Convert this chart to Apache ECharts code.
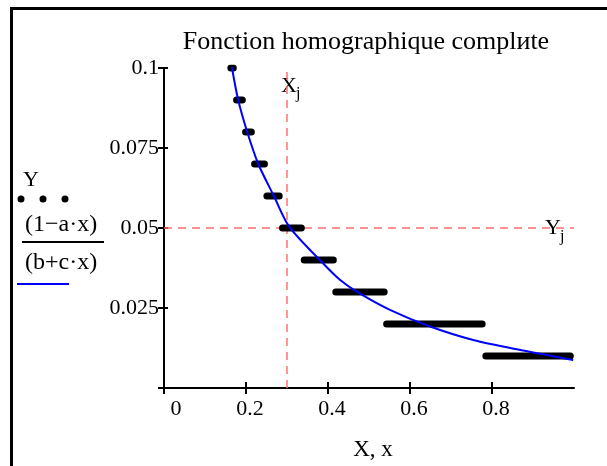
<!DOCTYPE html>
<html>
<head>
<meta charset="utf-8">
<script src="https://cdn.jsdelivr.net/npm/echarts@6/dist/echarts.min.js"></script>
<style>
html,body{margin:0;padding:0;background:#fff;}
#chart{width:607px;height:466px;}
</style>
</head>
<body>
<div id="chart"></div>
<script>
//刻度
var xTicks = [0, 0.2, 0.4, 0.6, 0.8];
var yTicks = [0, 0.025, 0.05, 0.075, 0.1];
var yLabels = [0.025, 0.05, 0.075, 0.1];
//曲线 (1-a·x)/(b+c·x)，从图上读出的点
var curveX = [0.16, 0.166, 0.181, 0.203, 0.230, 0.268, 0.305, 0.380, 0.429, 0.470, 0.551, 0.649, 0.754, 0.876, 0.998];
var curveY = [0.106, 0.1, 0.09, 0.08, 0.07, 0.06, 0.0505, 0.040, 0.0338, 0.0301, 0.0244, 0.0192, 0.015, 0.0117, 0.00875];
//Y 点：每一级的起止 X
var stepY  = [0.1, 0.09, 0.08, 0.07, 0.06, 0.05, 0.04, 0.03, 0.02, 0.01];
var stepX0 = [0.163, 0.177, 0.199, 0.221, 0.251, 0.289, 0.342, 0.419, 0.543, 0.785];
var stepX1 = [0.169, 0.191, 0.213, 0.245, 0.281, 0.335, 0.413, 0.537, 0.776, 0.991];
//Xj, Yj
var Xj = 0.3;
var Yj = 0.05;

var FONT = '"Liberation Serif", "DejaVu Serif", serif';

var myChart = echarts.init(document.getElementById('chart'));

var curveData = [];
for (var i = 0; i < curveX.length; i++) {
    curveData.push([curveX[i], curveY[i]]);
}

var series = [];
//虚线
series.push({
    type: 'line', xAxisIndex: 0, yAxisIndex: 0, symbol: 'none', z: 1, silent: true,
    data: [[Xj, 0], [Xj, 0.1]],
    lineStyle: {color: '#ff7070', width: 1.5, type: [8, 6]}
});
series.push({
    type: 'line', xAxisIndex: 0, yAxisIndex: 0, symbol: 'none', z: 1, silent: true,
    data: [[0, Yj], [1, Yj]],
    lineStyle: {color: '#ff7070', width: 1.5, type: [8, 6]}
});
//黑色点段
for (var k = 0; k < stepY.length; k++) {
    series.push({
        type: 'line', xAxisIndex: 0, yAxisIndex: 0, symbol: 'none', z: 2, clip: true,
        data: [[stepX0[k], stepY[k]], [stepX1[k], stepY[k]]],
        lineStyle: {color: '#000', width: 7, cap: 'round'}
    });
}
//蓝色曲线
series.push({
    type: 'line', xAxisIndex: 0, yAxisIndex: 0, symbol: 'none', z: 3, clip: true,
    smooth: 0.3,
    data: curveData,
    lineStyle: {color: '#0000ff', width: 2}
});

var option = {
    animation: false,
    grid: {left: 164, right: 33, top: 68, bottom: 78, containLabel: false, outerBoundsMode: 'none'},
    xAxis: [{
        type: 'value', min: 0, max: 1,
        axisLine: {show: true, lineStyle: {color: '#000', width: 2}},
        axisTick: {show: true, inside: false, length: 6, lineStyle: {color: '#000', width: 2}, customValues: xTicks},
        axisLabel: {
            show: true, margin: 10, color: '#000', fontSize: 22, fontFamily: FONT,
            customValues: xTicks,
            formatter: function (v) { return v === 0 ? '{z|0}' : '{n|' + v + '}'; },
            rich: {
                z: {fontSize: 22, fontFamily: FONT, color: '#000', padding: [0, 0, 0, 24]},
                n: {fontSize: 22, fontFamily: FONT, color: '#000', padding: [0, 0, 0, 8]}
            }
        },
        splitLine: {show: false},
        name: 'X, x', nameLocation: 'middle', nameGap: 50,
        nameTextStyle: {color: '#000', fontSize: 23, fontFamily: FONT, padding: [0, 0, 0, 8]}
    }, {
        type: 'value', min: 0, max: 1, position: 'bottom',
        axisLine: {show: false},
        axisTick: {show: true, inside: true, length: 6, lineStyle: {color: '#000', width: 2}, customValues: xTicks},
        axisLabel: {show: false},
        splitLine: {show: false}
    }],
    yAxis: [{
        type: 'value', min: 0, max: 0.1,
        axisLine: {show: true, lineStyle: {color: '#000', width: 2}},
        axisTick: {show: true, inside: false, length: 6, lineStyle: {color: '#000', width: 2}, customValues: yTicks},
        axisLabel: {
            show: true, margin: 5, color: '#000', fontSize: 22, fontFamily: FONT,
            customValues: yLabels
        },
        splitLine: {show: false}
    }, {
        type: 'value', min: 0, max: 0.1, position: 'left',
        axisLine: {show: false},
        axisTick: {show: true, inside: true, length: 4, lineStyle: {color: '#000', width: 2}, customValues: yTicks},
        axisLabel: {show: false},
        splitLine: {show: false}
    }],
    graphic: [
        //边框
        {type: 'line', shape: {x1: 11.5, y1: 7, x2: 11.5, y2: 466}, style: {stroke: '#000', lineWidth: 3}},
        {type: 'line', shape: {x1: 10, y1: 8.5, x2: 607, y2: 8.5}, style: {stroke: '#000', lineWidth: 3}},
        //标题
        {type: 'text', x: 366, y: 42, style: {text: 'Fonction homographique complиte', font: '26px ' + FONT, fill: '#000', textAlign: 'center', textVerticalAlign: 'middle'}},
        //Xj Yj
        {type: 'text', x: 281, y: 86, style: {text: 'X', font: '22px ' + FONT, fill: '#000', textVerticalAlign: 'middle'}},
        {type: 'text', x: 296, y: 94, style: {text: 'j', font: '16px ' + FONT, fill: '#000', textVerticalAlign: 'middle'}},
        {type: 'text', x: 545, y: 228, style: {text: 'Y', font: '22px ' + FONT, fill: '#000', textVerticalAlign: 'middle'}},
        {type: 'text', x: 560, y: 237, style: {text: 'j', font: '16px ' + FONT, fill: '#000', textVerticalAlign: 'middle'}},
        //图例
        {type: 'text', x: 23, y: 180, style: {text: 'Y', font: '22px ' + FONT, fill: '#000', textVerticalAlign: 'middle'}},
        {type: 'circle', shape: {cx: 21, cy: 199, r: 3.5}, style: {fill: '#000'}},
        {type: 'circle', shape: {cx: 43, cy: 199, r: 3.5}, style: {fill: '#000'}},
        {type: 'circle', shape: {cx: 65, cy: 199, r: 3.5}, style: {fill: '#000'}},
        {type: 'text', x: 25, y: 225, style: {text: '(1\u2212a\u00b7x)', font: '24px ' + FONT, fill: '#000', textVerticalAlign: 'middle'}},
        {type: 'line', shape: {x1: 22, y1: 242, x2: 104, y2: 242}, style: {stroke: '#000', lineWidth: 2}},
        {type: 'text', x: 25, y: 263, style: {text: '(b+c\u00b7x)', font: '24px ' + FONT, fill: '#000', textVerticalAlign: 'middle'}},
        {type: 'line', shape: {x1: 17, y1: 284, x2: 69, y2: 284}, style: {stroke: '#0000ff', lineWidth: 2}}
    ],
    series: series
};
myChart.setOption(option);
</script>
</body>
</html>
